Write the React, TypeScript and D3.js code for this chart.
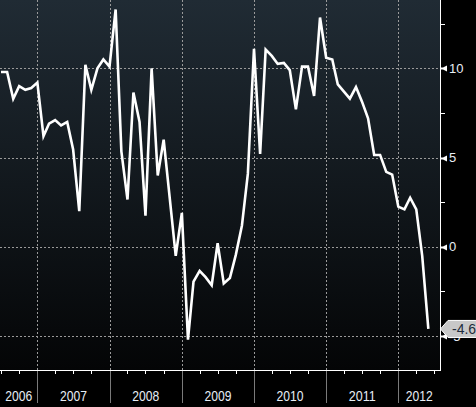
import { useEffect, useRef } from "react"
import * as d3 from "d3"

// monthly values, Jul 2006 .. Jun 2012
const startMonth = new Date(2006, 6, 1)
const values = [
    9.8, 9.8, 8.3, 9.0, 8.8, 8.9,
    9.2, 6.2, 6.9, 7.1, 6.8, 7.0, 5.45, 2.0, 10.2, 8.8, 10.0, 10.5,
    10.1, 13.3, 5.35, 2.65, 8.65, 7.0, 1.75, 10.0, 4.0, 6.0, 2.7, -0.5,
    1.9, -5.2, -1.95, -1.35, -1.7, -2.15, 0.2, -2.05, -1.75, -0.45, 1.2, 4.1,
    11.1, 5.2, 11.05, 10.7, 10.25, 10.3, 9.9, 7.7, 10.1, 10.1, 8.45, 12.85,
    10.6, 10.5, 9.1, 8.7, 8.3, 8.95, 8.15, 7.2, 5.15, 5.15, 4.2, 4.05,
    2.25, 2.1, 2.75, 2.1, -0.5, -4.6,
]
const years = [2006, 2007, 2008, 2009, 2010, 2011, 2012]
const yTicks = [10, 5, 0, -5]
const yMinorTicks = [12.5, 7.5, 2.5, -2.5]
const lastLabel = "-4.6"

export default function App() {
    const svgRef = useRef(null)

    useEffect(() => {
        document.body.style.margin = "0"
        const width = 476
        const height = 407
        const plotW = 440
        const plotH = 370

        const svg = d3.select(svgRef.current)
        svg.selectAll("*").remove()
        svg.attr("width", width).attr("height", height)

        const x = d3
            .scaleTime()
            .domain([new Date(2006, 5, 26), new Date(2012, 6, 30)])
            .range([0, plotW])
        const y = d3.scaleLinear().domain([-6.9, 13.83]).range([plotH, 0])

        const data = values.map((v, i) => ({
            date: d3.timeMonth.offset(startMonth, i),
            value: v,
        }))

        svg.append("rect").attr("width", width).attr("height", height).attr("fill", "#000")

        const defs = svg.append("defs")
        const grad = defs
            .append("linearGradient")
            .attr("id", "bg")
            .attr("x1", 0)
            .attr("y1", 0)
            .attr("x2", 0)
            .attr("y2", 1)
        grad.append("stop").attr("offset", "0%").attr("stop-color", "#202b34")
        grad.append("stop").attr("offset", "100%").attr("stop-color", "#040506")

        svg.append("rect").attr("width", plotW).attr("height", plotH).attr("fill", "url(#bg)")

        const grid = svg.append("g").attr("stroke", "#9a9a9a").attr("stroke-dasharray", "2,2")
        grid.selectAll(".hg")
            .data(yTicks)
            .enter()
            .append("line")
            .attr("x1", 0)
            .attr("x2", plotW)
            .attr("y1", (d) => Math.round(y(d)) + 0.5)
            .attr("y2", (d) => Math.round(y(d)) + 0.5)
        const yearStarts = years.slice(1).map((yr) => new Date(yr, 0, 1))
        grid.selectAll(".vg")
            .data(yearStarts)
            .enter()
            .append("line")
            .attr("x1", (d) => Math.round(x(d)) + 0.5)
            .attr("x2", (d) => Math.round(x(d)) + 0.5)
            .attr("y1", 0)
            .attr("y2", plotH)

        const line = d3
            .line()
            .x((d) => x(d.date))
            .y((d) => y(d.value))
        svg.append("path")
            .datum(data)
            .attr("d", line)
            .attr("fill", "none")
            .attr("stroke", "#fff")
            .attr("stroke-width", 2.6)
            .attr("stroke-linejoin", "miter")

        // axes lines
        svg.append("line")
            .attr("x1", 0)
            .attr("x2", plotW + 1)
            .attr("y1", plotH + 0.5)
            .attr("y2", plotH + 0.5)
            .attr("stroke", "#fff")
        svg.append("line")
            .attr("x1", plotW + 0.5)
            .attr("x2", plotW + 0.5)
            .attr("y1", 0)
            .attr("y2", plotH)
            .attr("stroke", "#fff")

        // quarter ticks
        const quarters = d3.timeMonth.every(3).range(new Date(2006, 6, 1), new Date(2012, 7, 1))
        svg.selectAll(".qt")
            .data(quarters)
            .enter()
            .append("line")
            .attr("x1", (d) => Math.round(x(d)) + 0.5)
            .attr("x2", (d) => Math.round(x(d)) + 0.5)
            .attr("y1", plotH)
            .attr("y2", plotH + 4)
            .attr("stroke", "#fff")

        // year separators
        svg.selectAll(".ys")
            .data(yearStarts)
            .enter()
            .append("line")
            .attr("x1", (d) => Math.round(x(d)) + 0.5)
            .attr("x2", (d) => Math.round(x(d)) + 0.5)
            .attr("y1", plotH + 1)
            .attr("y2", 403)
            .attr("stroke", "#7a7a7a")

        svg.selectAll(".yl")
            .data(years)
            .enter()
            .append("text")
            .attr("x", (d) => {
                const a = Math.max(0, x(new Date(d, 0, 1)))
                const b = Math.min(plotW, x(new Date(d + 1, 0, 1)))
                return Math.max(16.5, (a + b) / 2)
            })
            .attr("y", 401)
            .attr("text-anchor", "middle")
            .attr("textLength", 27)
            .attr("lengthAdjust", "spacingAndGlyphs")
            .attr("font-family", "'Liberation Sans', Arial, sans-serif")
            .attr("font-size", 15)
            .attr("fill", "#e8eef6")
            .text((d) => d)

        // right axis ticks
        svg.selectAll(".ym")
            .data(yMinorTicks)
            .enter()
            .append("line")
            .attr("x1", plotW)
            .attr("x2", plotW + 5)
            .attr("y1", (d) => Math.round(y(d)) + 0.5)
            .attr("y2", (d) => Math.round(y(d)) + 0.5)
            .attr("stroke", "#fff")
        svg.selectAll(".yM")
            .data(yTicks)
            .enter()
            .append("path")
            .attr("d", (d) => {
                const yy = Math.round(y(d)) + 0.5
                return `M${plotW},${yy - 1}L${plotW + 3},${yy - 1}L${plotW + 7},${yy - 3}L${plotW + 7},${yy + 3}L${plotW + 3},${yy + 1}L${plotW},${yy + 1}Z`
            })
            .attr("fill", "#fff")
        svg.selectAll(".yt")
            .data(yTicks)
            .enter()
            .append("text")
            .attr("x", plotW + 9)
            .attr("y", (d) => y(d) + 4.5)
            .attr("font-family", "'Liberation Sans', Arial, sans-serif")
            .attr("font-size", 13)
            .attr("fill", "#e8eef6")
            .text((d) => d)

        // last value callout
        const last = data[data.length - 1]
        const ly = y(last.value)
        svg.append("path")
            .attr("d", `M${plotW + 0.5},${ly}L${plotW + 8},${ly - 8.5}L${width + 5},${ly - 8.5}L${width + 5},${ly + 8.5}L${plotW + 8},${ly + 8.5}Z`)
            .attr("fill", "#c8c8c8")
            .attr("stroke", "#fff")
            .attr("stroke-width", 1)
        svg.append("text")
            .attr("x", plotW + 12)
            .attr("y", ly + 5)
            .attr("font-family", "'Liberation Sans', Arial, sans-serif")
            .attr("font-size", 14)
            .attr("fill", "#1e2c3c")
            .text(lastLabel)
    }, [])

    return (
        <div style={{ position: "fixed", left: 0, top: 0 }}>
            <svg ref={svgRef} style={{ display: "block" }}></svg>
        </div>
    )
}
